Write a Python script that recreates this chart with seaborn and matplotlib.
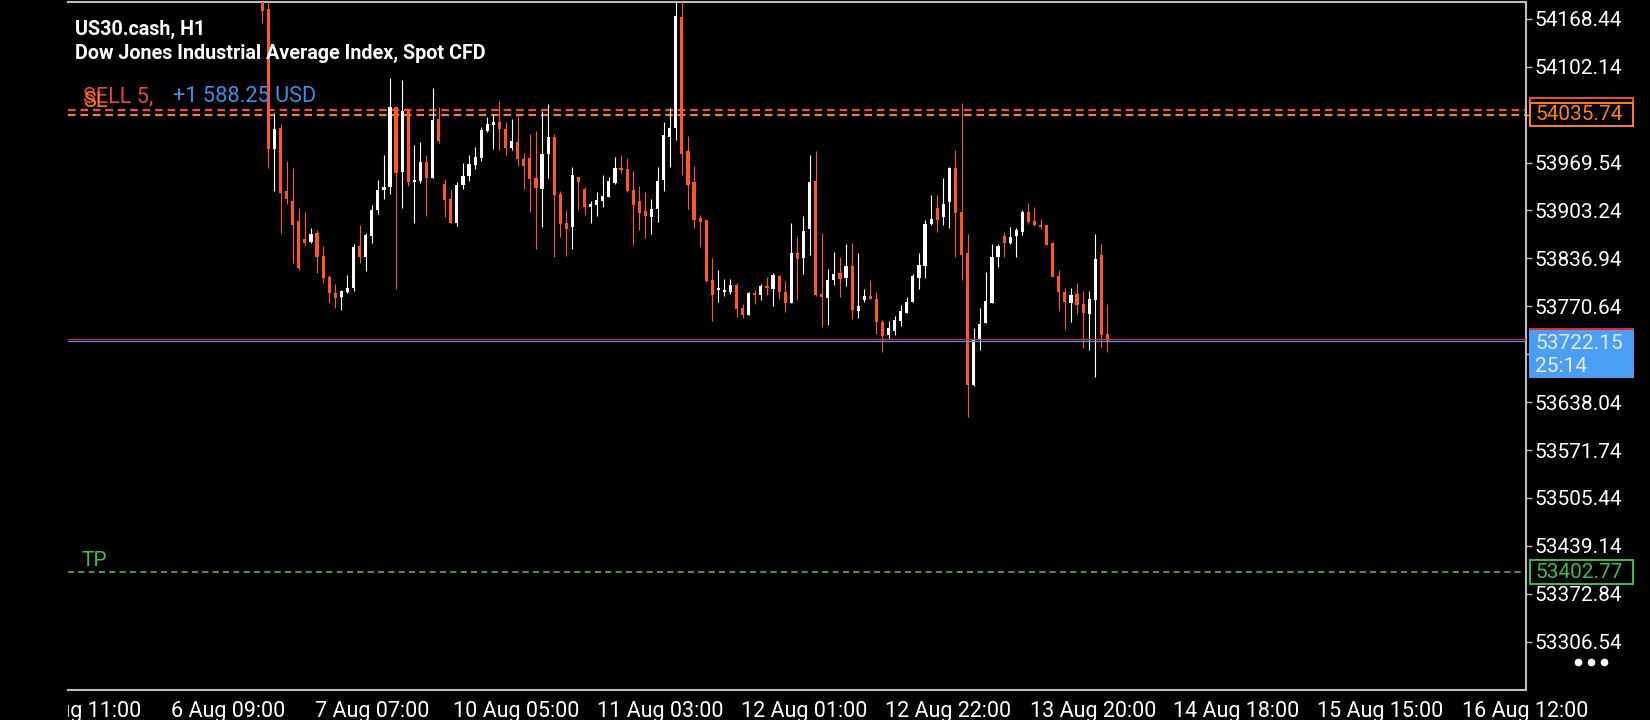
import matplotlib.pyplot as plt
import seaborn as sns
import pandas as pd
from matplotlib.patches import Rectangle
from matplotlib.lines import Line2D
from matplotlib.transforms import blended_transform_factory

# ---------------------------------------------------------------------------
# Datos: velas H1 de US30.cash
# ---------------------------------------------------------------------------

opens = [
    54198.0, 54182.1, 53988.4, 54017.4, 53930.2, 53916.4, 53888.7, 53863.8, 53859.6, 53871.6,
    53840.3, 53811.2, 53789.5, 53784.0, 53790.4, 53796.0, 53854.1, 53839.3, 53868.4, 53903.9,
    53931.6, 53936.2, 54046.0, 53956.5, 54043.3, 53943.2, 53944.1, 53970.4, 53948.7, 54029.9,
    53939.9, 53919.2, 53886.4, 53938.5, 53951.0, 53966.2, 53975.9, 54013.3, 54021.6, 54025.7,
    54016.1, 53989.8, 53998.1, 53974.5, 53975.9, 53948.2, 53933.0, 53981.4, 54005.0, 53926.1,
    53886.0, 53880.9, 53949.6, 53933.0, 53908.5, 53910.9, 53916.4, 53922.4, 53941.3, 53962.1,
    53960.7, 53931.6, 53916.4, 53902.6, 53894.7, 53905.3, 53945.5, 54005.0, 54017.4, 54171.1,
    53985.6, 53942.7, 53892.9, 53890.1, 53807.0, 53793.2, 53790.9, 53790.4, 53800.1, 53768.3,
    53758.6, 53789.0, 53786.3, 53799.2, 53794.6, 53812.6, 53790.4, 53775.2, 53844.4, 53837.5,
    53877.6, 53944.1, 53787.7, 53782.1, 53807.0, 53816.7, 53809.8, 53826.4, 53764.1, 53779.4,
    53784.9, 53780.7, 53748.9, 53730.9, 53736.5, 53750.3, 53761.4, 53776.6, 53809.8, 53826.4,
    53884.6, 53906.7, 53894.3, 53915.0, 53962.1, 53901.2, 53844.4, 53661.7, 53724.0, 53747.5,
    53775.2, 53838.9, 53867.9, 53858.3, 53867.9, 53873.5, 53901.2, 53888.7, 53883.2, 53883.2,
    53858.3, 53812.6, 53790.4, 53775.2, 53787.7, 53773.8, 53760.0, 53779.4, 53841.6, 53732.3,
]
highs = [
    54215.0, 54210.0, 54037.7, 54023.0, 53971.3, 53961.6, 53906.2, 53901.2, 53878.6, 53876.2,
    53854.1, 53813.5, 53801.5, 53793.2, 53814.0, 53856.9, 53883.2, 53872.6, 53910.9, 53945.5,
    53980.1, 54086.2, 54047.9, 54083.9, 54043.3, 53993.9, 53998.1, 53980.1, 54072.8, 54046.0,
    53946.8, 53933.0, 53942.7, 53969.0, 53980.1, 53991.1, 54018.8, 54032.7, 54036.8, 54054.8,
    54025.7, 54029.9, 54034.1, 53982.8, 54009.1, 54013.3, 54040.9, 54050.7, 54009.1, 53930.2,
    53903.9, 53963.5, 53949.6, 53935.8, 53916.4, 53928.8, 53952.4, 53949.6, 53977.3, 53980.1,
    53975.9, 53957.9, 53937.2, 53928.8, 53919.2, 53963.5, 54025.7, 54045.1, 54205.0, 54205.0,
    54006.4, 53964.8, 53897.0, 53890.6, 53837.5, 53820.9, 53808.4, 53808.4, 53802.9, 53773.8,
    53790.4, 53793.2, 53801.5, 53811.2, 53816.7, 53814.0, 53805.7, 53885.9, 53866.6, 53895.6,
    53980.1, 53985.6, 53872.1, 53822.3, 53845.8, 53838.9, 53856.9, 53858.3, 53844.4, 53794.6,
    53807.0, 53790.4, 53751.7, 53750.3, 53757.2, 53772.4, 53783.5, 53815.4, 53844.4, 53890.1,
    53924.7, 53924.7, 53948.2, 53962.8, 53987.0, 54052.0, 53870.7, 53740.6, 53768.3, 53818.1,
    53856.9, 53856.9, 53873.5, 53880.4, 53879.0, 53903.9, 53913.6, 53908.1, 53891.5, 53883.7,
    53859.7, 53820.9, 53796.0, 53796.0, 53802.9, 53791.8, 53791.8, 53870.7, 53856.9, 53773.8,
]
lows = [
    54163.2, 53962.5, 53930.7, 53871.6, 53912.7, 53831.0, 53820.9, 53855.5, 53858.7, 53816.3,
    53803.4, 53775.7, 53768.8, 53765.5, 53789.5, 53792.3, 53831.0, 53820.0, 53857.8, 53897.9,
    53919.2, 53926.1, 53795.1, 53907.2, 53937.6, 53885.5, 53940.8, 53896.1, 53947.8, 53997.1,
    53894.7, 53885.9, 53882.2, 53933.0, 53944.1, 53961.1, 53971.8, 54011.9, 53988.4, 53987.0,
    53980.1, 53987.0, 53964.8, 53933.0, 53901.2, 53850.0, 53880.9, 53948.7, 53839.3, 53867.0,
    53840.7, 53850.0, 53903.9, 53897.0, 53886.4, 53896.1, 53908.5, 53921.5, 53940.4, 53955.1,
    53929.3, 53855.5, 53876.2, 53865.2, 53870.7, 53887.8, 53930.2, 53963.5, 54000.8, 53952.4,
    53905.3, 53879.0, 53852.7, 53803.8, 53750.3, 53776.6, 53784.9, 53787.7, 53755.8, 53754.4,
    53758.1, 53773.8, 53779.4, 53786.3, 53771.0, 53780.7, 53762.8, 53774.7, 53779.4, 53815.4,
    53841.6, 53784.9, 53742.0, 53744.8, 53800.1, 53783.5, 53798.7, 53753.1, 53754.4, 53776.6,
    53780.2, 53732.3, 53707.4, 53725.4, 53730.9, 53743.4, 53760.9, 53776.1, 53794.6, 53809.8,
    53883.2, 53873.5, 53883.2, 53879.0, 53838.9, 53807.0, 53617.9, 53660.3, 53710.2, 53747.0,
    53774.7, 53825.0, 53838.9, 53856.9, 53838.9, 53869.3, 53884.6, 53881.8, 53877.6, 53855.0,
    53810.7, 53764.1, 53739.2, 53748.9, 53760.0, 53712.9, 53710.2, 53672.8, 53714.3, 53707.4,
]
closes = [
    54179.8, 53988.4, 54016.1, 53927.9, 53918.7, 53883.6, 53823.2, 53857.8, 53870.7, 53839.3,
    53810.3, 53789.5, 53782.6, 53791.8, 53795.5, 53853.2, 53839.3, 53869.3, 53903.9, 53931.2,
    53935.3, 54046.0, 53955.6, 54040.9, 53943.2, 53944.5, 53970.4, 53948.7, 54028.5, 53999.4,
    53917.8, 53886.4, 53938.5, 53951.0, 53967.6, 53977.3, 54014.7, 54023.0, 54025.7, 54016.1,
    53989.8, 53999.4, 53974.5, 53964.8, 53946.8, 53934.4, 53981.4, 54005.0, 53924.7, 53884.6,
    53877.6, 53952.4, 53942.7, 53908.5, 53912.2, 53917.8, 53923.3, 53944.1, 53962.1, 53959.3,
    53930.2, 53910.9, 53900.2, 53895.6, 53905.3, 53944.1, 54007.7, 54017.4, 54172.5, 53981.4,
    53938.5, 53890.1, 53887.3, 53805.2, 53786.7, 53796.0, 53792.3, 53800.6, 53766.9, 53758.6,
    53789.0, 53786.3, 53798.7, 53796.0, 53814.0, 53790.4, 53775.2, 53844.4, 53836.1, 53874.9,
    53942.7, 53786.3, 53783.5, 53807.0, 53815.4, 53808.4, 53826.4, 53765.5, 53771.1, 53784.9,
    53780.7, 53748.9, 53729.5, 53740.6, 53751.7, 53764.1, 53776.6, 53812.6, 53827.8, 53884.6,
    53891.5, 53890.1, 53912.2, 53962.1, 53899.8, 53841.6, 53661.7, 53725.4, 53746.1, 53778.0,
    53838.9, 53854.1, 53858.3, 53866.6, 53876.2, 53901.2, 53887.3, 53883.2, 53880.4, 53855.5,
    53811.2, 53790.4, 53776.6, 53786.3, 53772.4, 53761.4, 53780.7, 53836.1, 53730.9, 53722.2,
]

# Niveles de la orden y precios actuales
open_price = 54043.0
sl_price = 54035.74
tp_price = 53402.77
bid_price = 53722.15
ask_price = 53725.0

# Eje de tiempo (posición en barras) y escala de precios
time_ticks = [-29.3, -5.7, 18.1, 41.7, 65.4, 89.1, 112.8, 136.6, 160.1, 183.8, 207.7]
time_labels = ["5 Aug 11:00", "6 Aug 09:00", "7 Aug 07:00", "10 Aug 05:00", "11 Aug 03:00",
               "12 Aug 01:00", "12 Aug 22:00", "13 Aug 20:00", "14 Aug 18:00",
               "15 Aug 15:00", "16 Aug 12:00"]
price_ticks = [54168.44, 54102.14, 54035.84, 53969.54, 53903.24, 53836.94, 53770.64,
               53704.34, 53638.04, 53571.74, 53505.44, 53439.14, 53372.84, 53306.54]
x_range = (-31.96, 207.84)
y_range = (53239.6, 54191.8)

# ---------------------------------------------------------------------------
# Estilo
# ---------------------------------------------------------------------------

sns.set_theme(style="dark", rc={
    "axes.facecolor": "black",
    "figure.facecolor": "black",
    "axes.edgecolor": "#BDBDBD",
    "text.color": "white",
    "xtick.color": "white",
    "ytick.color": "white",
})
plt.rcParams["font.family"] = ["Roboto", "DejaVu Sans"]

UP = "#FFFFFF"
DOWN = "#FF5722"
W, H = 1650, 720
LABEL_FS = 15

df = pd.DataFrame({"open": opens, "high": highs, "low": lows, "close": closes})
df["bar"] = range(len(df))
df["color"] = [UP if c >= o else DOWN for o, c in zip(df["open"], df["close"])]

fig = plt.figure(figsize=(W / 100, H / 100), dpi=100)
ax = fig.add_axes([68 / W, 30 / H, 1458 / W, 688 / H])
ax.set_xlim(*x_range)
ax.set_ylim(*y_range)

price_per_px = (y_range[1] - y_range[0]) / 688.0

# Velas: mechas + cuerpos
ax.vlines(df["bar"], df["low"], df["high"], colors=df["color"], linewidth=0.8, zorder=3)
body_lo = df[["open", "close"]].min(axis=1)
body_h = (df["close"] - df["open"]).abs().clip(lower=price_per_px * 1.3)
ax.bar(df["bar"], body_h, bottom=body_lo, width=0.52, color=df["color"], linewidth=0, zorder=3)

# Líneas de la orden
ax.axhline(open_price, color="#F04A4A", linewidth=1.6, dashes=(3.4, 2.2), zorder=2)
ax.axhline(sl_price, color="#FF7F1F", linewidth=1.6, dashes=(3.4, 2.2), zorder=2)
ax.axhline(tp_price, color="#3DBE4B", linewidth=1.2, dashes=(3.6, 2.6), zorder=2)
ax.axhline(ask_price, color="#E8262B", linewidth=0.9, zorder=4)
ax.axhline(bid_price, color="#3D9CF5", linewidth=0.9, zorder=4)

# Ejes
sns.despine(ax=ax, left=True, top=False, right=False, bottom=False)
for side in ["top", "right", "bottom"]:
    ax.spines[side].set_linewidth(1.5)
    ax.spines[side].set_color("#BDBDBD")
ax.grid(False)


def _covered(v):
    """Etiquetas de la escala que quedan tapadas por las cajas de precio."""
    return abs(v - sl_price) < 15 or (bid_price - 50 < v < bid_price + 17)


ax.set_xticks(time_ticks)
ax.set_xticklabels(time_labels)
ax.yaxis.tick_right()
ax.set_yticks(price_ticks)
ax.set_yticklabels(["" if _covered(v) else f"{v:.2f}" for v in price_ticks])
ax.tick_params(axis="x", length=3, width=1, color="#BDBDBD", pad=5, labelsize=15.5)
ax.tick_params(axis="y", length=4, width=1, color="#BDBDBD", pad=2, labelsize=LABEL_FS,
               left=False, right=True)

# Primera etiqueta de tiempo recortada en el borde del gráfico
clip = Rectangle((68 / W, 0), 1, 1, transform=fig.transFigure)
first = ax.get_xticklabels()[0]
first.set_clip_on(True)
first.set_clip_path(clip)

# Etiquetas de precio en la escala derecha
trans = blended_transform_factory(ax.transAxes, ax.transData)
bx0 = (1529.5 - 68) / 1458
bw = 103 / 1458
tx0 = (1535 - 68) / 1458


def price_box(price, edge, face, txt, txt_color, up_px=11.7, down_px=11.7):
    r = Rectangle((bx0, price - down_px * price_per_px), bw, (up_px + down_px) * price_per_px,
                  transform=trans, facecolor=face, edgecolor=edge, linewidth=1.4,
                  clip_on=False, zorder=6)
    ax.add_patch(r)
    if txt:
        ax.text(tx0, price, txt, transform=trans, color=txt_color, fontsize=LABEL_FS,
                va="center", ha="left", clip_on=False, zorder=7)


price_box(open_price, "#F04A4A", "black", "", None)
price_box(sl_price, "#FF7F1F", "black", f"{sl_price:.2f}", "#FF7F1F")
price_box(tp_price, "#3DBE4B", "black", f"{tp_price:.2f}", "#3DBE4B")

# Precio actual (bid) con contador de la vela
price_box(bid_price, "#4A9FF5", "#4A9FF5", "", None, up_px=12.3, down_px=35.7)
ax.add_patch(Rectangle((bx0, bid_price + 11.3 * price_per_px), bw, 1.6 * price_per_px,
                       transform=trans, facecolor="#E8262B", linewidth=0,
                       clip_on=False, zorder=7))
ax.text(tx0, bid_price - 1.7 * price_per_px, f"{bid_price:.2f}", transform=trans,
        color="#E6E6E6", fontsize=LABEL_FS, va="center", ha="left", clip_on=False, zorder=8)
ax.text(tx0, bid_price - 24.7 * price_per_px, "25:14", transform=trans,
        color="#E6E6E6", fontsize=LABEL_FS, va="center", ha="left", clip_on=False, zorder=8)

# Textos del encabezado
fig.text(75 / W, 1 - 29 / H, "US30.cash, H1", color="white", fontsize=14.2,
         fontweight="bold", va="center")
fig.text(75 / W, 1 - 53.5 / H, "Dow Jones Industrial Average Index, Spot CFD",
         color="white", fontsize=14.2, fontweight="bold", va="center")
fig.text(82.7 / W, 1 - 97 / H, "SELL 5,", color="#E8453C", fontsize=15.7, va="center")
fig.text(82.7 / W, 1 - 101.5 / H, "SL", color="#FF7A1A", fontsize=15.7, va="center")
fig.text(173 / W, 1 - 97 / H, "+1 588.25 USD", color="#3F8EE6", fontsize=15.7, va="center")
fig.text(82 / W, 1 - 560 / H, "TP", color="#3DBE4B", fontsize=15, va="center")

# Menú de tres puntos
fig.add_artist(Line2D([1578 / W, 1591 / W, 1604 / W], [1 - 662 / H] * 3,
                      transform=fig.transFigure, linestyle="none", marker="o",
                      markersize=4.5, color="white"))

fig.savefig("out.png", dpi=100, facecolor="black")
